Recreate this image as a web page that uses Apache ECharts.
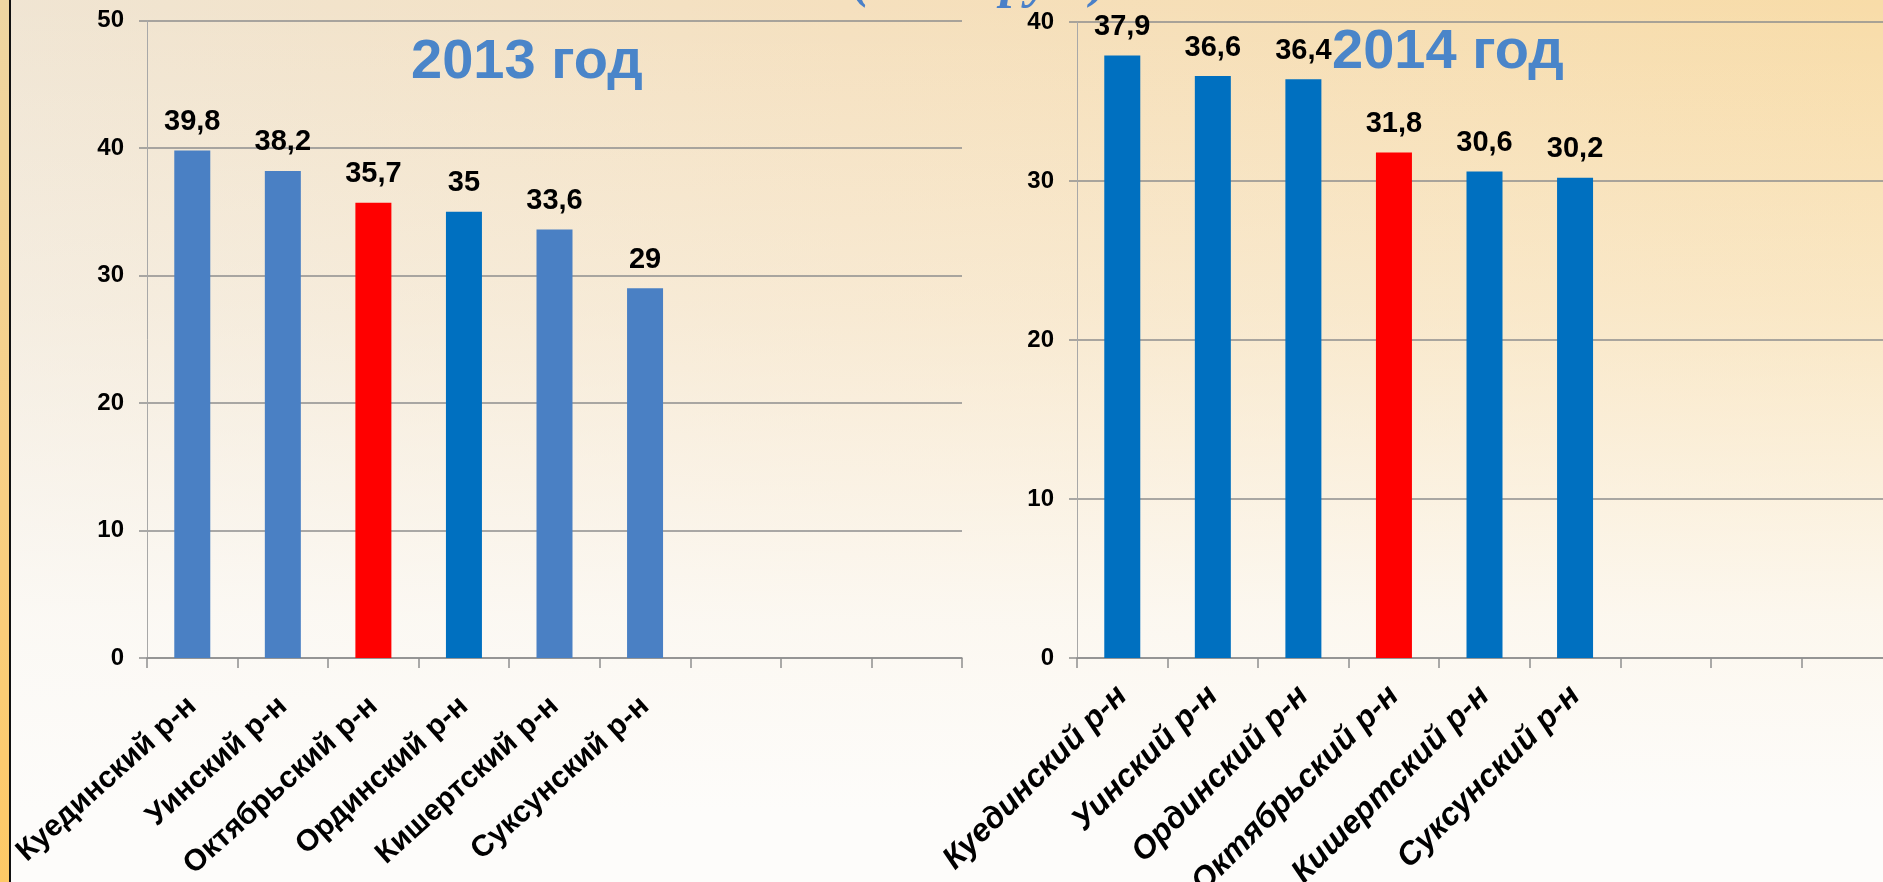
<!DOCTYPE html>
<html>
<head>
<meta charset="utf-8">
<script src="https://cdn.jsdelivr.net/npm/echarts@6/dist/echarts.min.js"></script>
<style>
  html, body { margin: 0; padding: 0; width: 1883px; height: 882px; overflow: hidden; }
  #wrap { position: absolute; left: 0; top: 0; width: 1883px; height: 882px;
    background:
      linear-gradient(to bottom, rgba(253,252,250,0) 0%, rgba(253,252,250,0.35) 35%, rgba(253,252,250,0.85) 70%, #FDFCFA 92%),
      linear-gradient(to right, #F0E5D3 0%, #F5E0BE 45%, #F8DCA8 100%);
  }
  #stripe { position: absolute; left: 0; top: 0; width: 9px; height: 882px;
    background: linear-gradient(to bottom, #EED6A2 0%, #F7D088 50%, #FEC966 100%); }
  #line { position: absolute; left: 9px; top: 0; width: 2px; height: 882px; background: #111; }
  #chart { position: absolute; left: 0; top: 0; width: 1883px; height: 882px; }
</style>
</head>
<body>
<div id="wrap"></div>
<div id="stripe"></div>
<div id="line"></div>
<div id="chart"></div>
<script>
// ---- data ----
const categories2013 = ['Куединский р-н', 'Уинский р-н', 'Октябрьский р-н', 'Ординский р-н', 'Кишертский р-н', 'Суксунский р-н', '', '', ''];
const values2013 = [39.8, 38.2, 35.7, 35, 33.6, 29];
const categories2014 = ['Куединский р-н', 'Уинский р-н', 'Ординский р-н', 'Октябрьский р-н', 'Кишертский р-н', 'Суксунский р-н', '', '', ''];
const values2014 = [37.9, 36.6, 36.4, 31.8, 30.6, 30.2];
const yTicks2013 = { min: 0, max: 50, interval: 10 };
const yTicks2014 = { min: 0, max: 40, interval: 10 };
const title2013 = '2013 год';
const title2014 = '2014 год';
const topCaption = '(тыс. руб.)';
const highlighted = 'Октябрьский р-н';

const FONT = "'Liberation Sans', Arial, sans-serif";
const fmt = v => String(v).replace('.', ',');

function color2013(p) {
  if (p.name === highlighted) return '#FF0000';
  if (p.name === 'Ординский р-н') return '#0070C0';
  return '#4A80C4';
}
function color2014(p) {
  if (p.name === highlighted) return '#FF0000';
  return '#0070C0';
}

function xAxisCfg(gridIndex, cats, italic, margin, rotate, size) {
  return {
    type: 'category', gridIndex: gridIndex, data: cats, boundaryGap: true,
    axisLine: { show: true, lineStyle: { color: '#8E8E8E', width: 1.5 } },
    axisTick: { show: true, interval: 0, length: 10, lineStyle: { color: '#8E8E8E', width: 1.5 } },
    axisLabel: { interval: 0, rotate: rotate, margin: margin, color: '#000', fontFamily: FONT,
      fontWeight: 'bold', fontStyle: italic ? 'italic' : 'normal', fontSize: size },
    splitLine: { show: false }
  };
}
function yAxisCfg(gridIndex, t) {
  return {
    type: 'value', gridIndex: gridIndex, min: t.min, max: t.max, interval: t.interval,
    axisLine: { show: true, lineStyle: { color: '#A8A8A8', width: 1 } },
    axisTick: { show: true, length: 8, lineStyle: { color: '#8E8E8E', width: 1.5 } },
    axisLabel: { color: '#000', fontFamily: FONT, fontWeight: 'bold', fontSize: 24, margin: 23 },
    splitLine: { show: true, lineStyle: { color: '#8E8E8E', width: 1.5 } }
  };
}
function labelCfg() {
  return { show: true, position: 'top', distance: 14, color: '#000', fontFamily: FONT,
    fontWeight: 'bold', fontSize: 29, formatter: p => fmt(p.value) };
}

const chart = echarts.init(document.getElementById('chart'), null, { renderer: 'canvas' });
chart.setOption({
  backgroundColor: 'transparent',
  animation: false,
  grid: [
    { left: 147, top: 20.5, width: 815, bottom: 224, containLabel: false, outerBoundsMode: 'none' },
    { left: 1077, top: 22, width: 815, bottom: 224, containLabel: false, outerBoundsMode: 'none' }
  ],
  xAxis: [xAxisCfg(0, categories2013, false, 44, 42, 30), xAxisCfg(1, categories2014, true, 33, 45, 32)],
  yAxis: [yAxisCfg(0, yTicks2013), yAxisCfg(1, yTicks2014)],
  series: [
    { type: 'bar', xAxisIndex: 0, yAxisIndex: 0, data: values2013, barWidth: 36,
      itemStyle: { color: color2013 }, label: labelCfg() },
    { type: 'bar', xAxisIndex: 1, yAxisIndex: 1, data: values2014, barWidth: 36,
      itemStyle: { color: color2014 }, label: labelCfg() }
  ],
  graphic: [
    { type: 'text', left: 411, top: 35, style: { text: title2013, fill: '#4A85C9',
      font: "bold 56px 'Liberation Sans', Arial, sans-serif" } },
    { type: 'text', left: 1332, top: 25, style: { text: title2014, fill: '#4A85C9',
      font: "bold 56px 'Liberation Sans', Arial, sans-serif" } },
    { type: 'text', left: 852, top: -45, style: { text: topCaption, fill: '#4A80C8',
      font: "bold italic 54px 'Liberation Serif', 'Times New Roman', serif" } }
  ]
});
</script>
</body>
</html>
